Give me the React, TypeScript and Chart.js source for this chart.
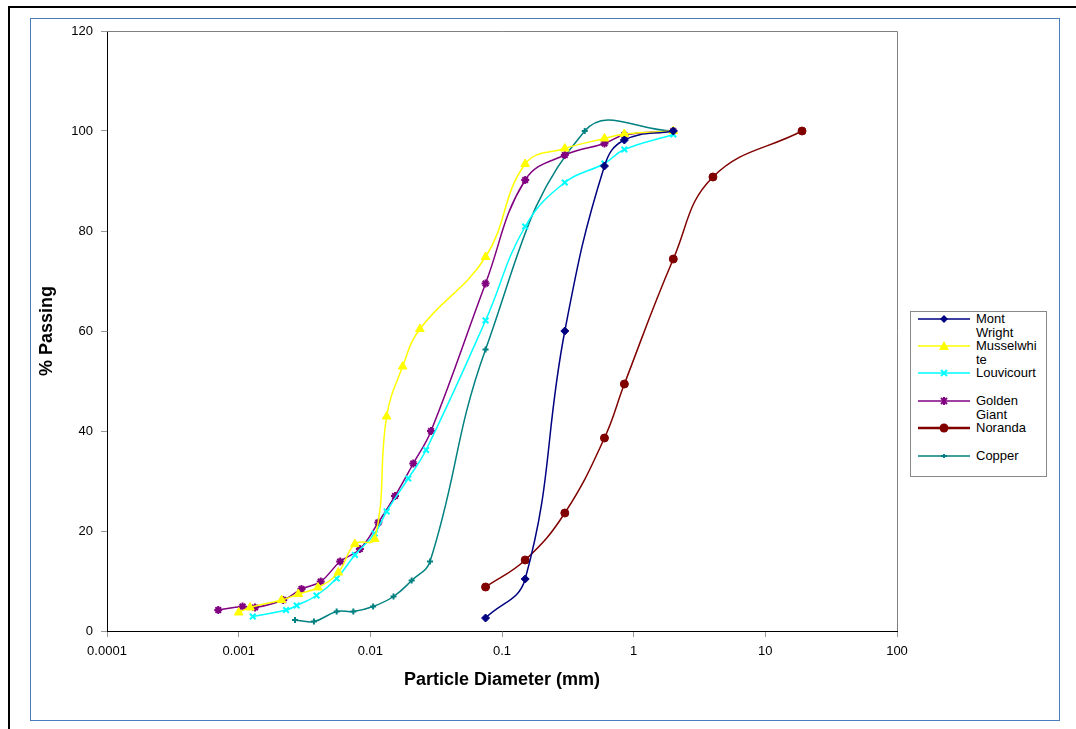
import React, { useEffect, useRef } from 'react';
import { Chart, registerables } from 'chart.js';

Chart.register(...registerables);

// ---- Data ----
const seriesNames = ['Mont Wright', 'Musselwhite', 'Louvicourt', 'Golden Giant', 'Noranda', 'Copper'];

const montWrightX = [0.075, 0.15, 0.3, 0.6, 0.85, 2];
const montWrightY = [2.6, 10.4, 60, 93, 98.2, 100];

const musselwhiteX = [0.001, 0.00122, 0.00212, 0.00284, 0.004, 0.00571, 0.00763, 0.0108, 0.0133, 0.0176, 0.0238, 0.075, 0.15, 0.3, 0.6, 0.85, 2];
const musselwhiteY = [3.7, 4.7, 6.2, 7.4, 8.7, 11.7, 17.4, 18.4, 42.9, 52.9, 60.4, 74.8, 93.4, 96.5, 98.5, 99.4, 100];

const louvicourtX = [0.00128, 0.00229, 0.00276, 0.0039, 0.00555, 0.00763, 0.0108, 0.0133, 0.0194, 0.0265, 0.075, 0.15, 0.3, 0.6, 0.85, 2];
const louvicourtY = [2.9, 4.2, 5.1, 7.1, 10.5, 15.2, 19.5, 23.9, 30.5, 36.2, 62.1, 80.9, 89.7, 93.5, 96.3, 99.3];

const goldenGiantX = [0.0007, 0.00107, 0.00133, 0.00218, 0.003, 0.0042, 0.0059, 0.00833, 0.0115, 0.0154, 0.0212, 0.0289, 0.075, 0.15, 0.3, 0.6, 0.85, 2];
const goldenGiantY = [4.2, 4.9, 4.7, 6.2, 8.4, 9.9, 13.9, 16.4, 21.7, 27, 33.5, 40, 69.5, 90.2, 95.2, 97.5, 99.2, 100];

const norandaX = [0.075, 0.15, 0.3, 0.6, 0.85, 2, 4, 19];
const norandaY = [8.8, 14.2, 23.6, 38.6, 49.4, 74.4, 90.8, 100];

const copperX = [0.00268, 0.00373, 0.00555, 0.00743, 0.0105, 0.015, 0.0206, 0.0284, 0.075, 0.425, 2];
const copperY = [2.2, 1.9, 3.9, 3.9, 4.9, 6.9, 10.1, 13.9, 56.3, 100, 100];

const xTickValues = [0.0001, 0.001, 0.01, 0.1, 1, 10, 100];
const xTickLabels = ['0.0001', '0.001', '0.01', '0.1', '1', '10', '100'];
const yTickValues = [0, 20, 40, 60, 80, 100, 120];

const xTitle = 'Particle Diameter (mm)';
const yTitle = '% Passing';

const seriesColors = ['#000080', '#FFFF00', '#00FFFF', '#800080', '#800000', '#008080'];

const FONT = "'Liberation Sans', Arial, sans-serif";

function pts(xs: number[], ys: number[]) {
  return xs.map((x, i) => ({ x, y: ys[i] }));
}

const plotBorder = {
  id: 'plotBorder',
  afterDraw(chart: any) {
    const { ctx, chartArea } = chart;
    ctx.save();
    ctx.strokeStyle = '#808080';
    ctx.lineWidth = 1;
    ctx.beginPath();
    ctx.moveTo(chartArea.left, Math.round(chartArea.top) + 0.5);
    ctx.lineTo(Math.round(chartArea.right) + 0.5, Math.round(chartArea.top) + 0.5);
    ctx.lineTo(Math.round(chartArea.right) + 0.5, chartArea.bottom);
    ctx.stroke();
    ctx.restore();
  },
};

function Marker({ kind, color }: { kind: string; color: string }) {
  const cx = 26, cy = 6;
  switch (kind) {
    case 'diamond':
      return <polygon points={`${cx},${cy - 4} ${cx + 4},${cy} ${cx},${cy + 4} ${cx - 4},${cy}`} fill={color} />;
    case 'triangle':
      return <polygon points={`${cx},${cy - 5} ${cx + 5},${cy + 4} ${cx - 5},${cy + 4}`} fill={color} />;
    case 'x':
      return (
        <g stroke={color} strokeWidth={2}>
          <line x1={cx - 3} y1={cy - 3} x2={cx + 3} y2={cy + 3} />
          <line x1={cx - 3} y1={cy + 3} x2={cx + 3} y2={cy - 3} />
        </g>
      );
    case 'star':
      return (
        <g stroke={color} strokeWidth={2}>
          <line x1={cx - 3} y1={cy - 3} x2={cx + 3} y2={cy + 3} />
          <line x1={cx - 3} y1={cy + 3} x2={cx + 3} y2={cy - 3} />
          <line x1={cx} y1={cy - 4} x2={cx} y2={cy + 4} />
        </g>
      );
    case 'circle':
      return <circle cx={cx} cy={cy} r={4.5} fill={color} />;
    default:
      return (
        <g stroke={color} strokeWidth={2}>
          <line x1={cx - 3} y1={cy} x2={cx + 3} y2={cy} />
          <line x1={cx} y1={cy - 2} x2={cx} y2={cy + 2} />
        </g>
      );
  }
}

const legendMarkers = ['diamond', 'triangle', 'x', 'star', 'circle', 'plus'];
const legendLineWidths = [1.5, 1.5, 1.5, 1.5, 2.5, 1.5];
const legendYs = [319, 346, 373, 401, 428, 456];

export default function App() {
  const canvasRef = useRef<HTMLCanvasElement | null>(null);

  useEffect(() => {
    const canvas = canvasRef.current;
    if (!canvas) return;
    const common = { showLine: true, borderWidth: 1.5, tension: 0.42, pointBorderWidth: 1 };
    const chart = new Chart(canvas, {
      type: 'scatter',
      data: {
        datasets: [
          { ...common, label: seriesNames[0], data: pts(montWrightX, montWrightY), borderColor: seriesColors[0], backgroundColor: seriesColors[0], pointStyle: 'rectRot', pointRadius: 4 },
          { ...common, label: seriesNames[1], data: pts(musselwhiteX, musselwhiteY), borderColor: seriesColors[1], backgroundColor: seriesColors[1], pointStyle: 'triangle', pointRadius: 5 },
          { ...common, label: seriesNames[2], data: pts(louvicourtX, louvicourtY), borderColor: seriesColors[2], backgroundColor: seriesColors[2], pointStyle: 'crossRot', pointRadius: 4, pointBorderWidth: 2 },
          { ...common, label: seriesNames[3], data: pts(goldenGiantX, goldenGiantY), borderColor: seriesColors[3], backgroundColor: seriesColors[3], pointStyle: 'star', pointRadius: 4, pointBorderWidth: 2 },
          { ...common, label: seriesNames[4], data: pts(norandaX, norandaY), borderColor: seriesColors[4], backgroundColor: seriesColors[4], pointStyle: 'circle', pointRadius: 4 },
          { ...common, label: seriesNames[5], data: pts(copperX, copperY), borderColor: seriesColors[5], backgroundColor: seriesColors[5], pointStyle: 'cross', pointRadius: 3, pointBorderWidth: 2 },
        ],
      },
      options: {
        responsive: false,
        animation: false,
        devicePixelRatio: 1,
        layout: { padding: { left: 0, top: 13, right: 162, bottom: 0 } },
        plugins: { legend: { display: false }, tooltip: { enabled: false } },
        scales: {
          x: {
            type: 'logarithmic',
            min: 0.0001,
            max: 100,
            afterBuildTicks: (scale: any) => {
              scale.ticks = xTickValues.map((v) => ({ value: v }));
            },
            afterFit: (scale: any) => {
              scale.height = 89;
              scale.paddingLeft = 0;
              scale.paddingRight = 0;
            },
            ticks: {
              autoSkip: false,
              maxRotation: 0,
              padding: 7,
              color: '#000',
              font: { family: FONT, size: 13 },
              callback: (_v: any, i: number) => xTickLabels[i],
            },
            grid: { drawOnChartArea: false, drawTicks: true, tickLength: 6, color: '#999' },
            border: { display: true, color: '#000', width: 1 },
            title: {
              display: true,
              text: xTitle,
              color: '#000',
              font: { family: FONT, size: 18, weight: 'bold' },
              padding: { top: 0, bottom: 29 },
            },
          },
          y: {
            type: 'linear',
            min: 0,
            max: 120,
            afterBuildTicks: (scale: any) => {
              scale.ticks = yTickValues.map((v) => ({ value: v }));
            },
            afterFit: (scale: any) => {
              scale.width = 77;
              scale.paddingTop = 0;
              scale.paddingBottom = 0;
            },
            ticks: {
              padding: 8,
              color: '#000',
              font: { family: FONT, size: 13 },
            },
            grid: { drawOnChartArea: false, drawTicks: true, tickLength: 6, color: '#999' },
            border: { display: true, color: '#000', width: 1 },
            title: {
              display: true,
              text: yTitle,
              color: '#000',
              font: { family: FONT, size: 18, weight: 'bold' },
              padding: { top: 6, bottom: 0 },
            },
          },
        },
      },
      plugins: [plotBorder],
    } as any);
    return () => chart.destroy();
  }, []);

  return (
    <div style={{ position: 'absolute', left: 0, top: 0, width: 1076, height: 729, background: '#fff', overflow: 'hidden' }}>
      <div style={{ position: 'absolute', left: 8, top: 6, width: 1068, height: 2, background: '#000' }} />
      <div style={{ position: 'absolute', left: 8, top: 6, width: 2, height: 723, background: '#000' }} />
      <div style={{ position: 'absolute', left: 30, top: 18, width: 1030, height: 703, boxSizing: 'border-box', border: '1px solid #4a7ebb' }} />
      <canvas ref={canvasRef} width={1029} height={702} style={{ position: 'absolute', left: 30, top: 18, width: 1029, height: 702 }} />
      <div style={{ position: 'absolute', left: 910, top: 311, width: 137, height: 166, boxSizing: 'border-box', border: '1px solid #888', background: '#fff' }} />
      {seriesNames.map((name, i) => (
        <React.Fragment key={name}>
          <svg width={52} height={12} style={{ position: 'absolute', left: 918, top: legendYs[i] - 6 }}>
            <line x1={0} y1={6} x2={52} y2={6} stroke={seriesColors[i]} strokeWidth={legendLineWidths[i]} />
            <Marker kind={legendMarkers[i]} color={seriesColors[i]} />
          </svg>
          <div
            style={{
              position: 'absolute',
              left: 976,
              top: legendYs[i] - 7.5,
              width: 62,
              fontFamily: FONT,
              fontSize: 13,
              lineHeight: '14.5px',
              color: '#000',
              overflowWrap: 'anywhere',
            }}
          >
            {name}
          </div>
        </React.Fragment>
      ))}
    </div>
  );
}
